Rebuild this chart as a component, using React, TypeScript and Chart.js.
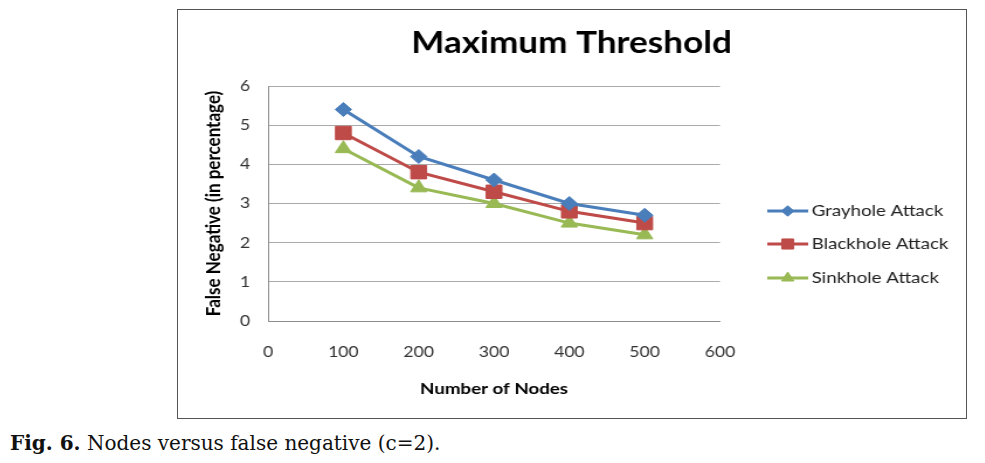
import React, { useEffect, useRef } from "react";
import { Chart, registerables } from "chart.js";
import { drawPoint } from "chart.js/helpers";

Chart.register(...registerables);

const nodes = [100, 200, 300, 400, 500];
const grayhole = [5.4, 4.2, 3.6, 3.0, 2.7];
const blackhole = [4.8, 3.8, 3.3, 2.8, 2.5];
const sinkhole = [4.4, 3.4, 3.0, 2.5, 2.2];
const seriesNames = ["Grayhole Attack", "Blackhole Attack", "Sinkhole Attack"];
const chartTitle = "Maximum Threshold";
const xTitle = "Number of Nodes";
const yTitle = "False Negative (in percentage)";

const FONT = "Lato, 'Open Sans', sans-serif";
const CW = 674; // canvas drawing width, stretched horizontally to 788px
const CH = 408;
const STRETCH = 788 / CW;

const titlePlugin = {
  id: "centerTitle",
  afterDraw(chart: any) {
    const ctx = chart.ctx;
    ctx.save();
    ctx.fillStyle = "#000";
    ctx.font = `bold 30px ${FONT}`;
    ctx.textAlign = "center";
    ctx.textBaseline = "middle";
    ctx.fillText(chartTitle, 336.6, 33);
    ctx.restore();
  },
};

const legendPlugin = {
  id: "lineLegend",
  afterDraw(chart: any) {
    const ctx = chart.ctx;
    const rows = [201, 234, 268];
    ctx.save();
    chart.data.datasets.forEach((ds: any, i: number) => {
      const y = rows[i];
      ctx.strokeStyle = ds.borderColor;
      ctx.lineWidth = 3;
      ctx.beginPath();
      ctx.moveTo(504, y);
      ctx.lineTo(539, y);
      ctx.stroke();
      ctx.fillStyle = ds.backgroundColor;
      ctx.strokeStyle = ds.borderColor;
      ctx.lineWidth = 1;
      drawPoint(ctx, { pointStyle: ds.pointStyle, radius: ds.pointRadius * 0.75, borderWidth: 1, rotation: 0 }, 521.5, y);
      ctx.fillStyle = "#222";
      ctx.font = `16px ${FONT}`;
      ctx.textBaseline = "middle";
      ctx.textAlign = "left";
      ctx.fillText(ds.label, 542, y);
    });
    ctx.restore();
  },
};

export default function App() {
  const ref = useRef<HTMLCanvasElement | null>(null);
  useEffect(() => {
    if (!ref.current) return;
    const mk = (label: string, vals: number[], color: string, style: string, r: number) => ({
      label,
      data: nodes.map((n, i) => ({ x: n, y: vals[i] })),
      borderColor: color,
      backgroundColor: color,
      borderWidth: 3,
      pointStyle: style,
      pointRadius: r,
      pointBorderWidth: 1,
      showLine: true,
      tension: 0,
    });
    const chart = new Chart(ref.current, {
      type: "scatter",
      data: {
        datasets: [
          mk(seriesNames[0], grayhole, "#4A7EBB", "rectRot", 7),
          mk(seriesNames[1], blackhole, "#BE4B48", "rect", 9.5),
          mk(seriesNames[2], sinkhole, "#98B954", "triangle", 8),
        ] as any,
      },
      options: {
        animation: false,
        responsive: false,
        maintainAspectRatio: false,
        layout: { padding: { left: 0, right: CW - 463.6, top: 76, bottom: 0 } },
        plugins: {
          legend: { display: false },
          tooltip: { enabled: false },
          title: { display: false },
        },
        scales: {
          x: {
            type: "linear",
            min: 0,
            max: 600,
            ticks: { stepSize: 100, color: "#333", font: { family: FONT, size: 15 }, padding: 22 },
            grid: { display: false, drawTicks: false },
            border: { display: true, color: "#8c8c8c", width: 1 },
            title: {
              display: true,
              text: xTitle,
              color: "#000",
              font: { family: FONT, size: 16, weight: "bold" },
              padding: { top: 0, bottom: 20 },
            },
            afterFit: (s: any) => { s.height = 97; },
          },
          y: {
            min: 0,
            max: 6,
            ticks: { stepSize: 1, color: "#333", font: { family: FONT, size: 15 }, padding: 15.4 },
            grid: { color: "#aaaaaa", lineWidth: 1, drawTicks: false },
            border: { display: true, color: "#8c8c8c", width: 1 },
            title: {
              display: true,
              text: yTitle,
              color: "#000",
              font: { family: FONT, size: 17, weight: "bold" },
              padding: { top: 20, bottom: 0 },
            },
            afterFit: (s: any) => { s.width = 77; },
          },
        },
      },
      plugins: [titlePlugin, legendPlugin],
    });
    return () => chart.destroy();
  }, []);
  return (
    <div style={{ position: "relative", width: 969, height: 455 }}>
      <div
        style={{
          position: "absolute",
          left: 169,
          top: 1,
          width: 790,
          height: 410,
          boxSizing: "border-box",
          border: "1px solid #555",
          background: "#fff",
          overflow: "hidden",
        }}
      >
        <canvas
          ref={ref}
          width={CW}
          height={CH}
          style={{ display: "block", transform: `scaleX(${STRETCH})`, transformOrigin: "0 0" }}
        />
      </div>
      <div
        style={{
          position: "absolute",
          left: 2,
          top: 423,
          fontFamily: "'DejaVu Serif', 'Liberation Serif', serif",
          fontSize: 20,
          lineHeight: "24px",
          color: "#111",
          whiteSpace: "nowrap",
        }}
      >
        <b>Fig. 6.</b> Nodes versus false negative (c=2).
      </div>
    </div>
  );
}
